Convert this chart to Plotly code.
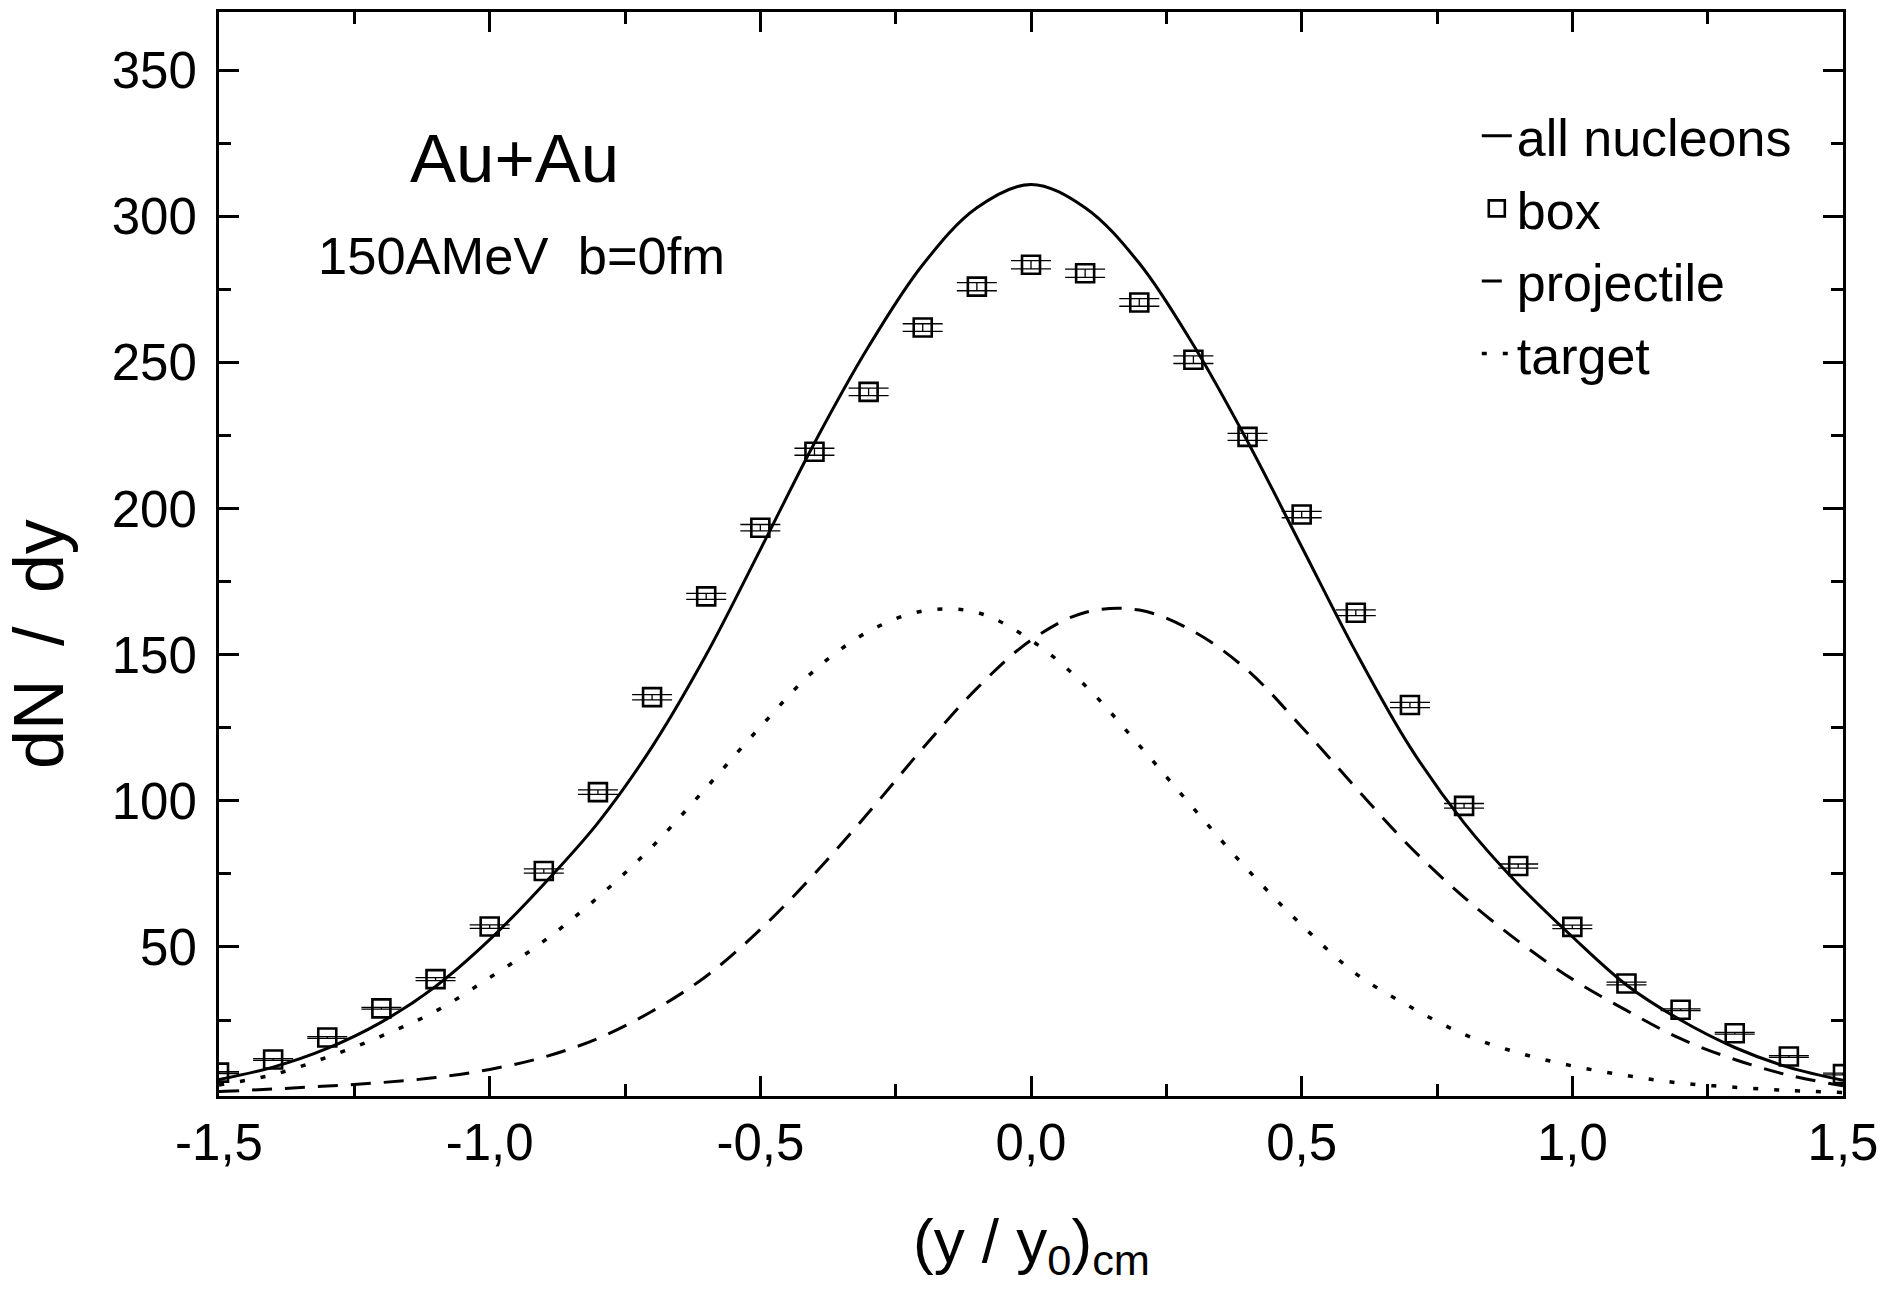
import plotly.graph_objects as go

# ---------------- data ----------------
x_grid = [-1.5, -1.4, -1.3, -1.2, -1.1, -1.0, -0.9, -0.8, -0.7, -0.6, -0.5,
          -0.4, -0.3, -0.2, -0.1, 0.0, 0.1, 0.2, 0.3, 0.4, 0.5, 0.6, 0.7,
          0.8, 0.9, 1.0, 1.1, 1.2, 1.3, 1.4, 1.5]

all_nucleons = [4.6, 8.9, 15.3, 24.3, 36.5, 52.5, 71.5, 92.5, 118.5, 150.0, 186.0,
                222.5, 255.5, 283.5, 303.0, 311.0, 303.0, 284.0, 256.0, 223.0, 187.0,
                151.0, 118.5, 92.5, 71.5, 53.5, 37.0, 25.0, 15.6, 8.8, 4.4]

projectile = [0.5, 1.4, 2.4, 3.6, 5.3, 8.1, 12.3, 18.7, 28.0, 40.0, 56.0,
              75.0, 96.0, 118.0, 138.5, 155.0, 164.5, 165.3, 158.0, 144.7, 125.3,
              104.5, 84.3, 67.0, 52.0, 39.0, 28.3, 18.6, 11.5, 6.1, 2.5]

target = [2.8, 6.3, 12.3, 19.5, 28.0, 39.5, 52.0, 67.0, 84.3, 104.5, 125.3,
          144.7, 158.0, 165.0, 164.5, 155.0, 139.5, 119.0, 97.5, 76.5, 57.5,
          40.9, 29.6, 20.1, 13.8, 9.3, 6.0, 3.4, 2.0, 0.9, 0.2]

box_x = x_grid
box_y = [7.0, 11.5, 19.0, 29.0, 39.0, 57.0, 76.0, 103.0, 135.5, 170.0, 193.5,
         219.5, 240.0, 262.0, 276.0, 283.5, 280.6, 270.6, 251.0, 224.6, 198.0,
         164.4, 132.8, 98.3, 77.7, 56.9, 37.5, 28.5, 20.5, 12.5, 6.5]
box_err = [0.3, 0.3, 0.3, 0.3, 0.5, 0.6, 0.7, 0.8, 0.9, 1.0, 1.1,
           1.2, 1.3, 1.3, 1.4, 1.4, 1.4, 1.3, 1.3, 1.2, 1.1,
           1.0, 0.9, 0.8, 0.7, 0.6, 0.5, 0.3, 0.3, 0.3, 0.3]

x_tickvals = [-1.5, -1.0, -0.5, 0.0, 0.5, 1.0, 1.5]
x_ticktext = ["-1,5", "-1,0", "-0,5", "0,0", "0,5", "1,0", "1,5"]
x_minorvals = [-1.25, -0.75, -0.25, 0.25, 0.75, 1.25]
y_tickvals = [50, 100, 150, 200, 250, 300, 350]
y_ticktext = ["50", "100", "150", "200", "250", "300", "350"]
y_minorvals = [25, 75, 125, 175, 225, 275, 325]

FONT = "Liberation Sans, Arial, Helvetica, sans-serif"

fig = go.Figure()
fig.add_trace(go.Scatter(x=x_grid, y=all_nucleons, mode="lines", name="all nucleons",
                         legendgroup="a",
                         line=dict(color="black", width=3, shape="spline", smoothing=1.0)))
fig.add_trace(go.Scatter(x=box_x, y=box_y, mode="markers", name="box", legendgroup="b",
                         marker=dict(symbol="square-open", size=18, color="black",
                                     line=dict(width=2.6, color="black")),
                         error_y=dict(type="data", array=box_err, visible=True,
                                      color="black", thickness=1.3, width=20)))
fig.add_trace(go.Scatter(x=x_grid, y=projectile, mode="lines", name="projectile",
                         legendgroup="c",
                         line=dict(color="black", width=3, dash="20px,13px",
                                   shape="spline", smoothing=1.0)))
fig.add_trace(go.Scatter(x=x_grid, y=target, mode="lines", name="target",
                         legendgroup="d",
                         line=dict(color="black", width=3.5, dash="5px,16px",
                                   shape="spline", smoothing=1.0)))

axis_common = dict(showline=True, linewidth=3, linecolor="black", mirror="allticks",
                   ticks="inside", ticklen=20, tickwidth=3, tickcolor="black",
                   showgrid=False, zeroline=False,
                   tickfont=dict(family=FONT, size=51, color="black"),
                   tickmode="array")

fig.update_xaxes(range=[-1.5, 1.5], tickvals=x_tickvals, ticktext=x_ticktext,
                 ticklabelstandoff=0,
                 minor=dict(ticks="inside", ticklen=12, tickwidth=3, tickcolor="black",
                            tickmode="array", tickvals=x_minorvals, showgrid=False),
                 **axis_common)
fig.update_yaxes(range=[-1.0, 370], tickvals=y_tickvals, ticktext=y_ticktext,
                 ticklabelstandoff=9,
                 minor=dict(ticks="inside", ticklen=12, tickwidth=3, tickcolor="black",
                            tickmode="array", tickvals=y_minorvals, showgrid=False),
                 **axis_common)

fig.update_layout(
    width=1892, height=1291,
    margin=dict(l=219, r=49, t=9, b=195),
    plot_bgcolor="white", paper_bgcolor="white",
    font=dict(family=FONT, size=52, color="black"),
    showlegend=True,
    legend=dict(x=0.7745, y=0.923, xanchor="left", yanchor="top",
                bgcolor="rgba(0,0,0,0)", borderwidth=0,
                font=dict(family=FONT, size=52, color="black"),
                tracegroupgap=2),
    annotations=[
        dict(text="Au+Au", x=0.1164, y=0.865, xref="paper", yref="paper",
             xanchor="left", yanchor="middle", showarrow=False,
             font=dict(family=FONT, size=69, color="black")),
        dict(text="150AMeV\u00a0\u00a0b=0fm", x=0.0597, y=0.7755, xref="paper", yref="paper",
             xanchor="left", yanchor="middle", showarrow=False,
             font=dict(family=FONT, size=52.5, color="black")),
        dict(text="dN\u00a0\u2009/\u00a0\u2009dy", x=-0.1105, y=0.4166, xref="paper", yref="paper",
             xanchor="center", yanchor="middle", textangle=-90, showarrow=False,
             font=dict(family=FONT, size=70, color="black")),
        dict(text="(y / y<sub>0</sub>)<sub>cm</sub>", x=0.5, y=-0.137, xref="paper", yref="paper",
             xanchor="center", yanchor="middle", showarrow=False,
             font=dict(family=FONT, size=62, color="black")),
    ],
)

fig.write_html("out.html", config={"displayModeBar": False},
               post_script="document.body.style.margin='0';document.body.style.overflow='hidden';")
